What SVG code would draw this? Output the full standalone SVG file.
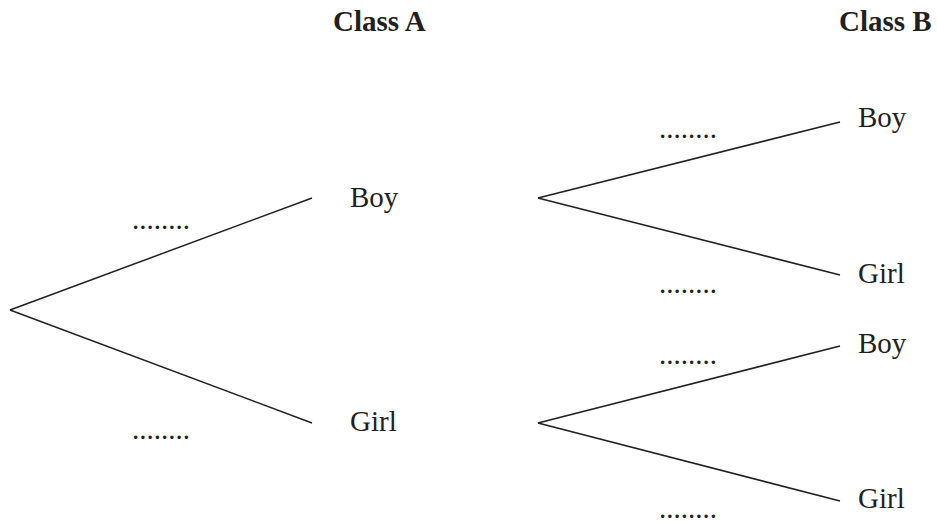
<svg xmlns="http://www.w3.org/2000/svg" width="937" height="524" viewBox="0 0 937 524">
<style>
.lbl{font-family:"Liberation Serif","Times New Roman",serif;font-size:29px;fill:#231f20}
.hdr{font-family:"Liberation Serif","Times New Roman",serif;font-size:29px;font-weight:bold;fill:#231f20}
.dots{font-family:"Liberation Serif","Times New Roman",serif;font-size:29px;fill:#231f20}
.edge{stroke:#231f20;stroke-width:1.5;fill:none}
</style>
<rect width="937" height="524" fill="#ffffff"/>
<g id="headers">
<text class="hdr" x="333" y="31">Class A</text>
<text class="hdr" x="839" y="31">Class B</text>
</g>
<g id="connectors">
<line class="edge" x1="10" y1="310" x2="312" y2="198"/>
<line class="edge" x1="10" y1="310" x2="312" y2="423"/>
<line class="edge" x1="538" y1="198" x2="840" y2="122"/>
<line class="edge" x1="538" y1="198" x2="840" y2="275"/>
<line class="edge" x1="538" y1="423" x2="840" y2="346"/>
<line class="edge" x1="538" y1="423" x2="840" y2="501"/>
</g>
<g id="probabilities">
<text class="dots" x="132" y="229">........</text>
<text class="dots" x="132" y="439">........</text>
<text class="dots" x="659" y="138">........</text>
<text class="dots" x="659" y="293">........</text>
<text class="dots" x="659" y="364">........</text>
<text class="dots" x="659" y="518">........</text>
</g>
<g id="a-boy"><text class="lbl" x="350" y="207">Boy</text></g>
<g id="a-girl"><text class="lbl" x="350" y="431">Girl</text></g>
<g id="b-boy-1"><text class="lbl" x="858" y="127">Boy</text></g>
<g id="b-girl-1"><text class="lbl" x="858" y="283">Girl</text></g>
<g id="b-boy-2"><text class="lbl" x="858" y="353">Boy</text></g>
<g id="b-girl-2"><text class="lbl" x="858" y="508">Girl</text></g>
</svg>
